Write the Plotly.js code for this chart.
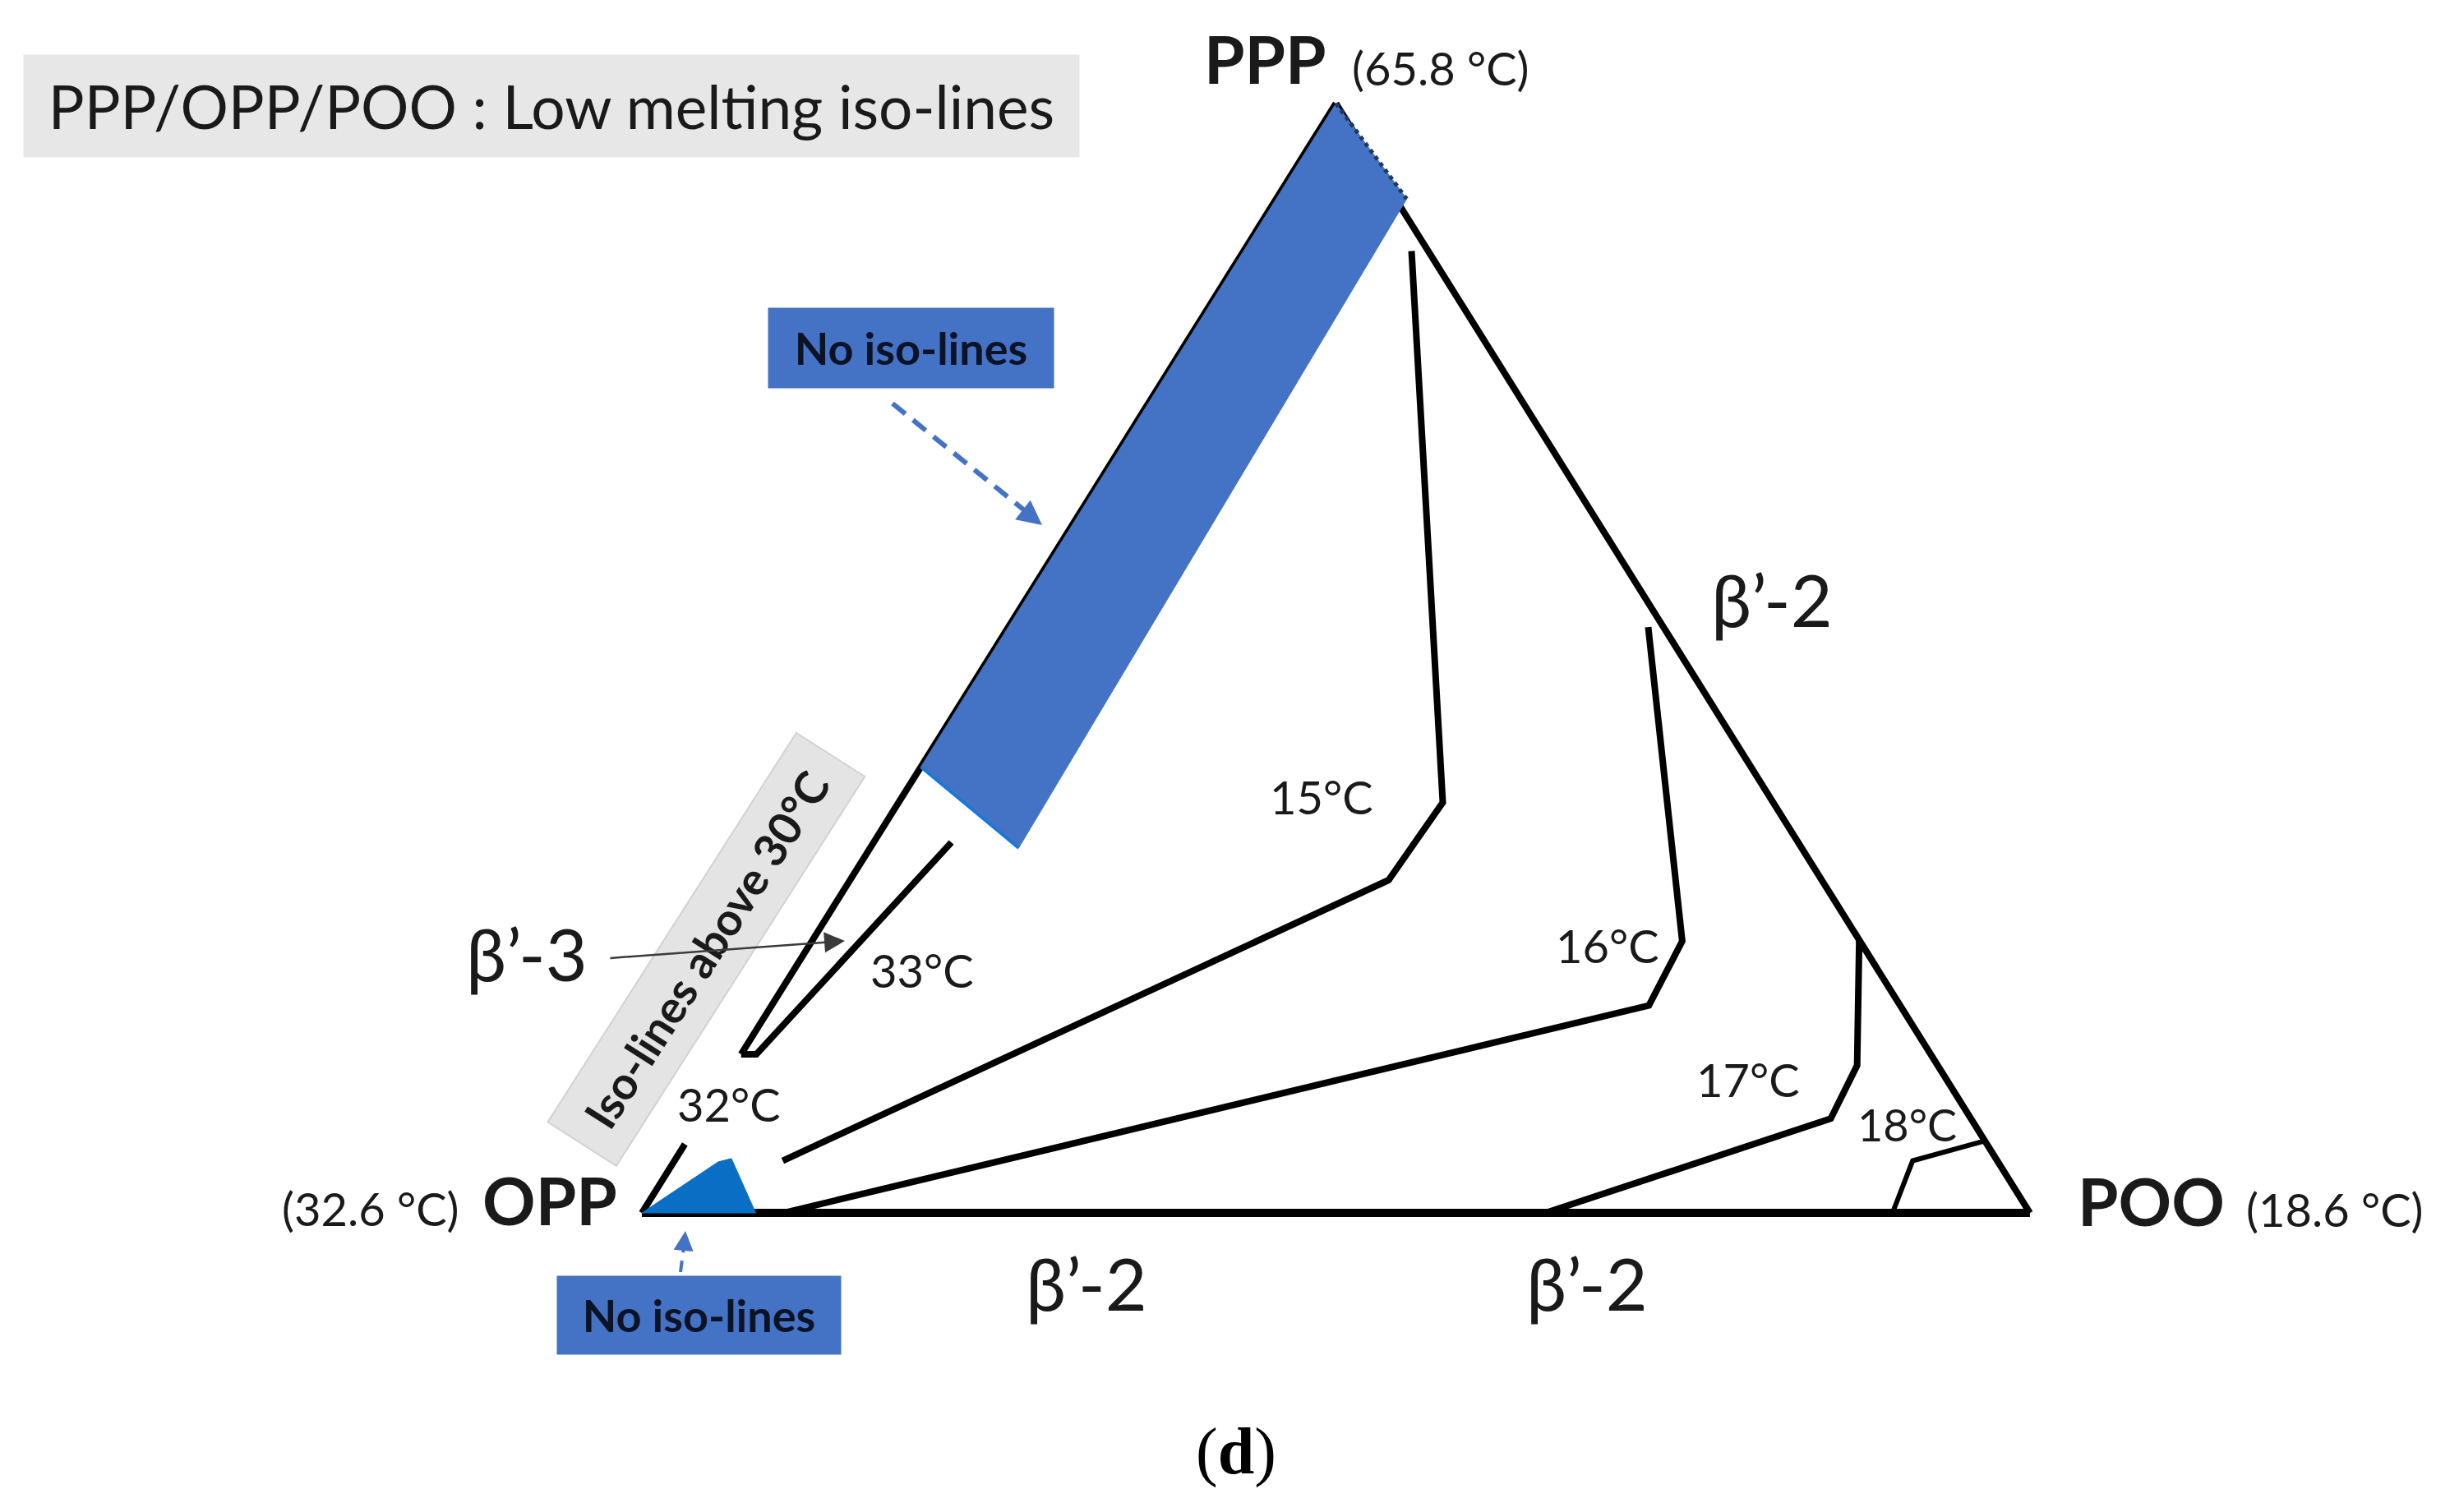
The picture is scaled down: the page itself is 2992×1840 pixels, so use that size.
<!DOCTYPE html>
<html>
<head>
<meta charset="utf-8">
<script src="https://cdn.plot.ly/plotly-3.0.1.min.js"></script>
<style>
  html, body { margin: 0; padding: 0; background: #fff; }
  #chart { width: 2992px; height: 1840px; }
</style>
</head>
<body>
<div id="chart"></div>
<script>
const W = 2992, H = 1840;

// compositions: % PPP and % POO (OPP is the rest)
const basePPP = [0, 0];            const basePOO = [0, 100];
const rightPPP = [100, 0];         const rightPOO = [0, 100];
const leftLowPPP = [0, 6.2];       const leftLowPOO = [0, 0];
const leftHighPPP = [14.3, 100];   const leftHighPOO = [0, 0];

const iso15PPP = [4.7, 30.0, 37.0, 86.7];  const iso15POO = [7.8, 38.8, 39.2, 12.1];
const iso16PPP = [0, 18.7, 24.5, 52.8];    const iso16POO = [10.2, 63.2, 62.7, 46.1];
const iso17PPP = [0, 8.5, 13.3, 24.6];     const iso17POO = [65.1, 81.4, 80.9, 75.4];
const iso18PPP = [0, 4.7, 6.5];            const iso18POO = [90.1, 89.2, 93.5];
const iso33PPP = [14.3, 14.3, 33.4];       const iso33POO = [0, 1.1, 5.6];

// zones without iso-lines
const bandPPP = [100, 91.4, 32.9, 40.2, 100];
const bandPOO = [0, 9.4, 10.7, 0, 0];
const cornerPPP = [0, 4.6, 4.9, 0, 0];
const cornerPOO = [0, 3.2, 4.0, 8.2, 0];

// ternary -> flat triangle
function toX(ppp, poo) { return ppp.map((a, i) => poo[i] / 100 + a / 200); }
function toY(ppp) { return ppp.map(a => a / 100); }

function edge(ppp, poo, width, color, dash) {
    return {
        x: toX(ppp, poo), y: toY(ppp),
        mode: "lines", type: "scatter",
        line: { color: color || "#000", width: width, dash: dash || "solid" },
        hoverinfo: "skip", showlegend: false
    };
}

function patch(ppp, poo, color) {
    return {
        x: toX(ppp, poo), y: toY(ppp),
        mode: "lines", type: "scatter", fill: "toself",
        fillcolor: color, line: { color: color, width: 1 },
        hoverinfo: "skip", showlegend: false
    };
}

const traces = [
    edge(basePPP, basePOO, 10),
    edge(rightPPP, rightPOO, 8),
    edge(leftLowPPP, leftLowPOO, 8),
    edge(leftHighPPP, leftHighPOO, 8),
    edge(iso15PPP, iso15POO, 8),
    edge(iso16PPP, iso16POO, 8),
    edge(iso17PPP, iso17POO, 8),
    edge(iso18PPP, iso18POO, 6),
    edge(iso33PPP, iso33POO, 8),
    patch(bandPPP, bandPOO, "#4472C4"),
    edge(bandPPP.slice(2, 4), bandPOO.slice(2, 4), 4, "#1a78d6"),
    edge(bandPPP.slice(0, 2), bandPOO.slice(0, 2), 5, "#1f3864", "dot"),
    patch(cornerPPP, cornerPOO, "#0a6fc4")
];

const px = x => x / W;
const py = y => 1 - y / H;
const FONT = "Lato, 'Open Sans', sans-serif";

function label(text, x, y, size, extra) {
    return Object.assign({
        text: text, x: px(x), y: py(y), xref: "paper", yref: "paper",
        xanchor: "center", yanchor: "middle", showarrow: false,
        font: { family: FONT, size: size, color: "#1a1a1a" }
    }, extra || {});
}

function arrowHead(x, y, ax, ay, color, width, size) {
    return {
        text: "", x: px(x), y: py(y), xref: "paper", yref: "paper",
        ax: ax, ay: ay, showarrow: true, arrowhead: 2, standoff: 0,
        arrowcolor: color, arrowwidth: width, arrowsize: size
    };
}

const annotations = [
    label("PPP/OPP/POO : Low melting iso-lines", 671, 129, 73,
        { bgcolor: "#e7e7e7", width: 1284, height: 124, borderpad: 0 }),

    label("<b>PPP</b>", 1539, 71, 80),
    label("(65.8 °C)", 1753, 82, 56),
    label("<b>OPP</b>", 669, 1460, 80),
    label("(32.6 °C)", 451, 1470, 56),
    label("<b>POO</b>", 2617, 1461, 80),
    label("(18.6 °C)", 2841, 1471, 56),

    label("β’-2", 2156, 729, 88),
    label("β’-2", 1322, 1561, 88),
    label("β’-2", 1931, 1561, 88),
    label("β’-3", 641, 1160, 88),

    label("15°C", 1608, 969, 56),
    label("16°C", 1956, 1150, 56),
    label("17°C", 2127, 1313, 56),
    label("18°C", 2320, 1368, 54),
    label("33°C", 1122, 1180, 56),
    label("32°C", 887, 1343, 56),

    label("<b>No iso-lines</b>", 1108, 423, 54,
        { bgcolor: "#4472C4", width: 347, height: 97, borderpad: 0,
          font: { family: FONT, size: 54, color: "#0d1326" } }),
    label("<b>No iso-lines</b>", 850, 1600, 54,
        { bgcolor: "#4472C4", width: 345, height: 95, borderpad: 0,
          font: { family: FONT, size: 54, color: "#0d1326" } }),

    label("<b>Iso-lines above 30°C</b>", 859, 1155, 55,
        { bgcolor: "#e4e4e4", bordercolor: "#d2d2d2", borderwidth: 2,
          width: 560, height: 97, borderpad: 0, textangle: -57.45 }),

    arrowHead(1028, 1145, -287, 21, "#3a3a3a", 2.5, 2),
    arrowHead(1268, 639, -19, -15, "#4472C4", 5, 1.2),
    arrowHead(834, 1498, -2, 20, "#4472C4", 4, 1.2),

    label("(<b>d</b>)", 1504, 1766, 80,
        { font: { family: "'Liberation Serif', 'Times New Roman', serif", size: 80, color: "#000" } })
];

const shapes = [
    { type: "line", xref: "paper", yref: "paper",
      x0: px(1086), y0: py(491), x1: px(1255), y1: py(628),
      line: { color: "#4472C4", width: 6, dash: "20px,12px" } },
    { type: "line", xref: "paper", yref: "paper",
      x0: px(828), y0: py(1548), x1: px(833), y1: py(1510),
      line: { color: "#4472C4", width: 4, dash: "14px,10px" } }
];

const layout = {
    width: W, height: H,
    margin: { l: 0, r: 0, t: 0, b: 0 },
    paper_bgcolor: "#fff", plot_bgcolor: "#fff",
    xaxis: { range: [-0.4624, 1.3091], visible: false, fixedrange: true },
    yaxis: { range: [-0.2696, 1.0933], visible: false, fixedrange: true },
    annotations: annotations,
    shapes: shapes,
    showlegend: false
};

Plotly.newPlot("chart", traces, layout, { staticPlot: true });
</script>
</body>
</html>
